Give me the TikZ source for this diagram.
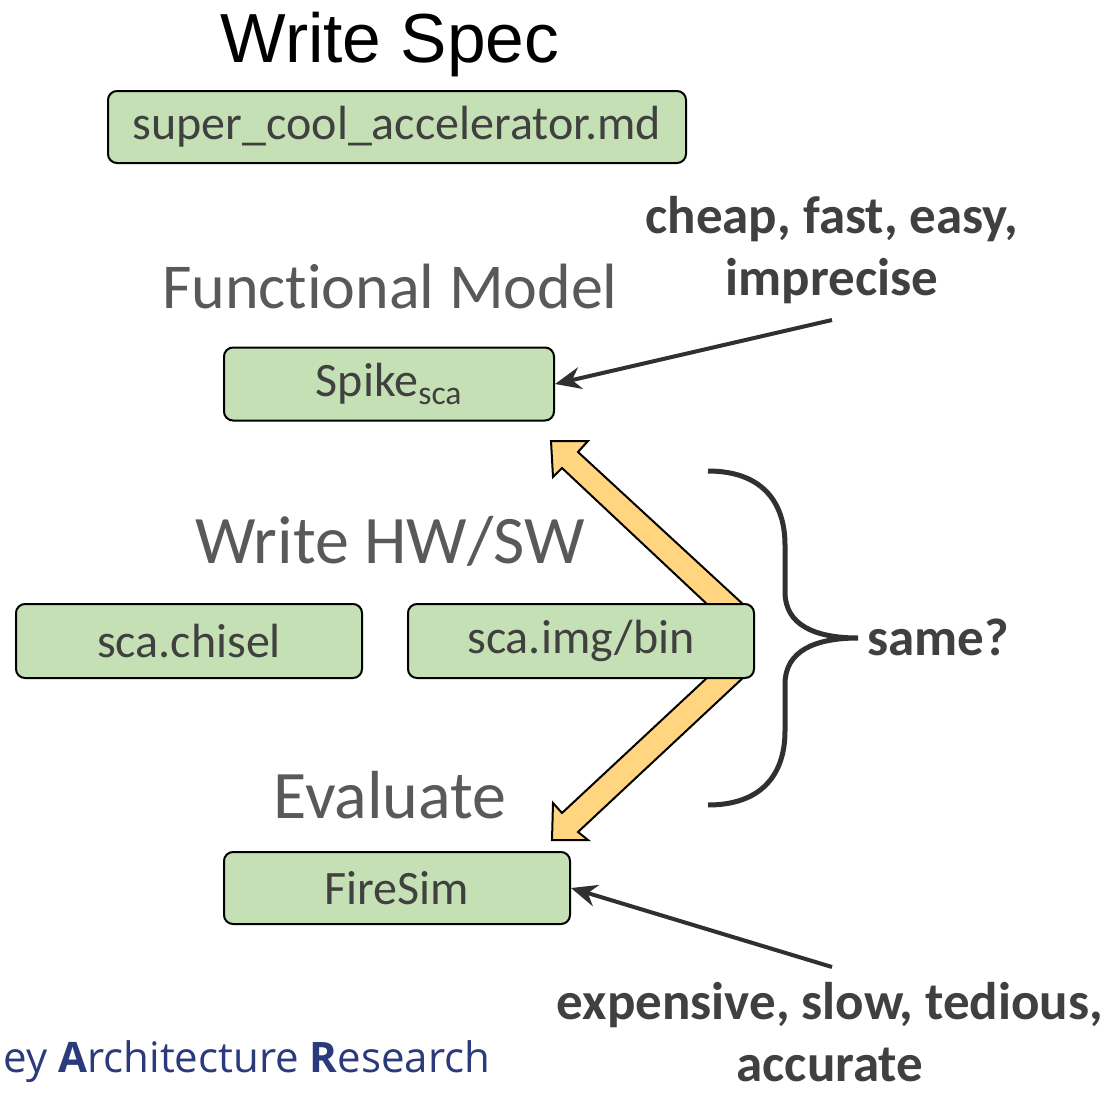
\documentclass[tikz,border=0pt]{standalone}
\usepackage{fontspec}
\setmainfont{Carlito}[Ligatures=NoCommon]
\newfontfamily\arialfont{Liberation Sans}
\newfontfamily\logofont{Open Sans}
\usepackage{tikz}
\usetikzlibrary{arrows.meta,positioning}
\definecolor{boxgreen}{HTML}{C5E0B4}
\definecolor{arrowgold}{HTML}{FFD580}
\definecolor{textgray}{HTML}{404040}
\definecolor{titlegray}{HTML}{595959}
\definecolor{inkgray}{HTML}{303030}
\definecolor{barnavy}{HTML}{2B3A7B}

\begin{document}
\begin{tikzpicture}[
  x=1pt,y=-1pt,
  file/.style={draw=black,line width=2pt,fill=boxgreen,rounded corners=9pt,text=textgray,
               font=\fontsize{48}{56}\selectfont,inner sep=0pt},
  phase/.style={text=titlegray,font=\fontsize{68}{78}\selectfont,anchor=base},
  note/.style={text=textgray,font=\fontsize{53}{62}\selectfont\bfseries,align=center,
               anchor=base,inner sep=1pt},
  pointer/.style={-{Stealth[length=26pt,width=22pt]},line width=4pt,draw=inkgray},
  bigarrow/.style={draw=black,line width=2pt,fill=arrowgold,line join=miter}
]
\useasboundingbox (0,0) rectangle (1112,1095);
% block arrows, tucked under the binary box
\draw[bigarrow] (745,606) -- (578,452) -- (588,441) -- (551,441) -- (553,477) -- (562,468)
  -- (709,606) -- cycle;
\draw[bigarrow] (745,676) -- (578,832) -- (588,840) -- (552,840) -- (553,803) -- (562,813)
  -- (709,676) -- cycle;

\node[anchor=base,font=\arialfont\fontsize{69.5}{80}\selectfont] (writespec) at (390,62) {Write Spec};
\node[file,minimum width=578pt,minimum height=72pt] (specmd) at (397,127) {super\_cool\_accelerator.md};

\node[phase,font=\fontsize{64}{78}\selectfont] (funcmodel) at (390,308) {Functional Model};
\node[file,minimum width=330pt,minimum height=73pt] (spike) at (389,384) {Spike\textsubscript{sca}};

\node[phase] (writehw) at (390,563) {Write HW/SW};
\node[file,minimum width=346pt,minimum height=74pt] (chisel) at (189,641) {sca.chisel};
\node[file,minimum width=346pt,minimum height=74pt] (imgbin) at (581,641) {sca.img/bin};

\node[phase] (evaluate) at (390,818) {Evaluate};
\node[file,minimum width=346pt,minimum height=72pt] (firesim) at (397,888) {FireSim};

% notes
\node[note] (cheap) at (832,295) {cheap, fast, easy,\\imprecise};
\coordinate (cheaptail) at (832,320);
\draw[pointer] (cheaptail) -- (spike.east);

\node[note] (pricey) at (830,1081) {expensive, slow, tedious,\\accurate};
\coordinate (priceytail) at (832,967);
\draw[pointer] (priceytail) -- (firesim.east);

% brace
\draw[line width=5pt,draw=inkgray] (708,471) .. controls (760,471) and (785,500) .. (785,545)
  -- (785,592) .. controls (785,625) and (815,638) .. (858,638)
  .. controls (815,638) and (785,651) .. (785,684) -- (785,731)
  .. controls (785,776) and (760,805) .. (708,805);
\node[note,anchor=base west] (same) at (866,655) {same?};

\node[anchor=base west,text=barnavy,font=\logofont\fontsize{42}{48}\selectfont] (footer) at (0,1072)
  {ey \textbf{A}rchitecture \textbf{R}esearch};
\end{tikzpicture}
\end{document}
